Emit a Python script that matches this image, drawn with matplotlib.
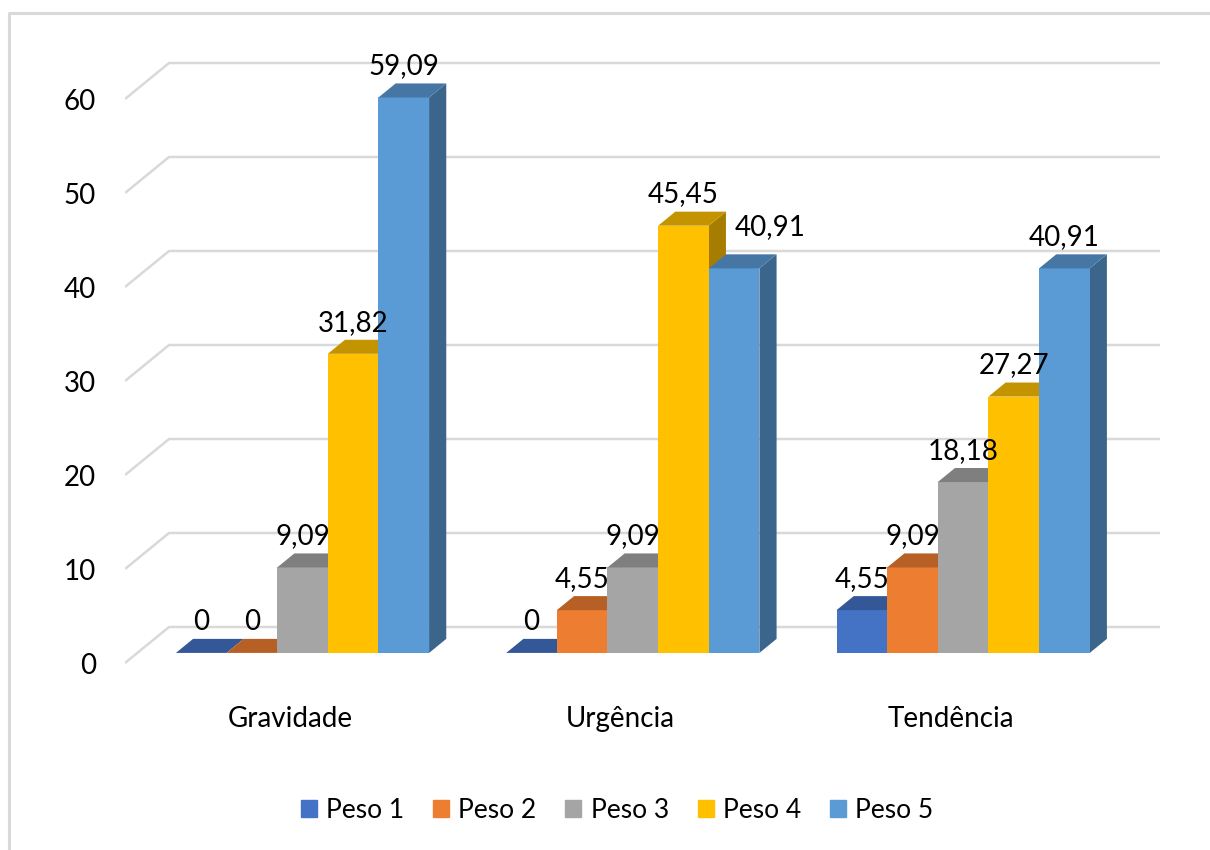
import numpy as np
import matplotlib.pyplot as plt
from matplotlib.patches import Polygon, Patch
from matplotlib.lines import Line2D

plt.rcParams['font.family'] = ['Lato', 'DejaVu Sans']

categories = ['Gravidade', 'Urgência', 'Tendência']
series = ['Peso 1', 'Peso 2', 'Peso 3', 'Peso 4', 'Peso 5']
peso1 = [0, 0, 4.55]
peso2 = [0, 4.55, 9.09]
peso3 = [9.09, 9.09, 18.18]
peso4 = [31.82, 45.45, 27.27]
peso5 = [59.09, 40.91, 40.91]
values = [peso1, peso2, peso3, peso4, peso5]
colors = ['#4472C4', '#ED7D31', '#A5A5A5', '#FFC000', '#5B9BD5']
yticks = [0, 10, 20, 30, 40, 50, 60]

# labels moved aside so they don't sit on a neighbouring bar (category, series): points
nudge = {(1, 4): (26, 7)}


def shade(c, k):
    r, g, b = [int(c[i:i + 2], 16) / 255 for i in (1, 3, 5)]
    return (r * k, g * k, b * k)


def fmt(v):
    return ('%.2f' % v).replace('.', ',') if v != 0 else '0'


# fake 3d: offset of the back wall in data units
DX = 44 / 330
DY = 36 / 9.4
front = 0.28      # depth where the bar fronts sit
depth = 0.39      # depth of each bar
w = 0.1533
gap = (1 - 5 * w) / 2

fig = plt.figure(figsize=(12.1, 8.5), dpi=100)
ax = fig.add_axes([125 / 1210, 150 / 850, 1035 / 1210, 670 / 850])
ax.set_xlim(0, 3 + DX)
ax.set_ylim(-37 / 9.4, 633 / 9.4)
for s in ax.spines.values():
    s.set_visible(False)

# gridlines: floor diagonal + back wall
for v in yticks:
    ax.plot([0, DX, 3 + DX], [v, v + DY, v + DY], color='#d9d9d9', lw=1.8, zorder=1,
            solid_capstyle='butt')

z = 2
for i in range(len(categories)):
    for j in range(len(series)):
        v = values[j][i]
        c = colors[j]
        x0 = i + gap + j * w + front * DX
        b = front * DY
        ddx, ddy = depth * DX, depth * DY
        side = Polygon([(x0 + w, b), (x0 + w, b + v), (x0 + w + ddx, b + v + ddy),
                        (x0 + w + ddx, b + ddy)], closed=True, fc=shade(c, 0.65),
                       ec='none', zorder=z)
        ax.add_patch(side)
        ax.bar(x0, v, width=w, bottom=b, align='edge', color=c, zorder=z + 1)
        top = Polygon([(x0, b + v), (x0 + w, b + v), (x0 + w + ddx, b + v + ddy),
                       (x0 + ddx, b + v + ddy)], closed=True, fc=shade(c, 0.77),
                      ec='none', zorder=z + 2)
        ax.add_patch(top)
        ox, oy = nudge.get((i, j), (0, 0))
        ax.annotate(fmt(v), (x0 + w / 2, b + v + ddy), xytext=(ox, 3 + oy),
                    textcoords='offset points', ha='center', va='bottom',
                    fontsize=20, color='#000000', zorder=50)
        z += 3

ax.set_yticks(yticks)
ax.set_yticklabels([str(t) for t in yticks], fontsize=20)
ax.set_xticks([i + 0.5 for i in range(len(categories))])
ax.set_xticklabels(categories, fontsize=20)
ax.tick_params(axis='y', length=0, pad=21)
ax.tick_params(axis='x', length=0, pad=4)

handles = [Patch(color=c, label=s) for c, s in zip(colors, series)]
fig.legend(handles=handles, loc='center', bbox_to_anchor=(0.51, 0.047), ncol=5,
           frameon=False, fontsize=19, handlelength=0.6, handleheight=0.6,
           handletextpad=0.35, columnspacing=1.1)

# chart frame
fig.add_artist(Line2D([9 / 1210, 9 / 1210, 1.0], [0, 1 - 13 / 850, 1 - 13 / 850],
                      color='#d9d9d9', lw=2.2))

fig.savefig('out.png', dpi=100)
